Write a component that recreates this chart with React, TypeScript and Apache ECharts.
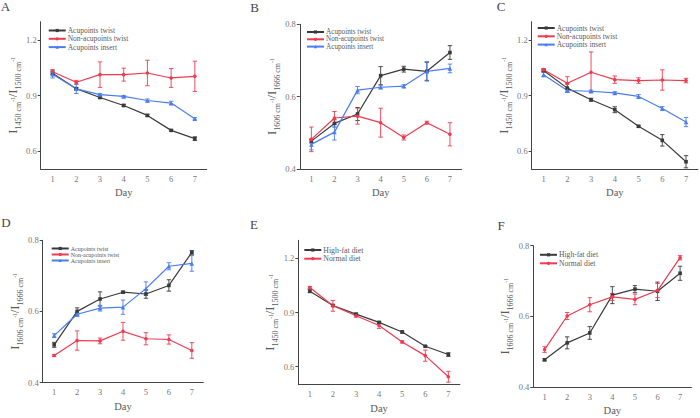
import React, { useEffect, useRef } from "react";
import * as echarts from "echarts";

const days = ["1", "2", "3", "4", "5", "6", "7"];

// Panel A
const A_twist = [1.02, 0.937, 0.889, 0.846, 0.792, 0.711, 0.666];
const A_twist_err = [0.008, 0.005, 0.005, 0.006, 0.006, 0.004, 0.01];
const A_non = [1.029, 0.972, 1.013, 1.013, 1.022, 0.995, 1.004];
const A_non_err = [0.012, 0.01, 0.069, 0.035, 0.069, 0.051, 0.082];
const A_insert = [1.015, 0.936, 0.905, 0.895, 0.873, 0.859, 0.774];
const A_insert_err = [0.02, 0.025, 0.005, 0.005, 0.008, 0.01, 0.006];

// Panel B
const B_twist = [0.477, 0.526, 0.552, 0.658, 0.676, 0.67, 0.722];
const B_twist_err = [0.005, 0.01, 0.018, 0.025, 0.008, 0.025, 0.019];
const B_non = [0.482, 0.541, 0.546, 0.528, 0.487, 0.528, 0.496];
const B_non_err = [0.034, 0.018, 0.022, 0.04, 0.007, 0.004, 0.032];
const B_insert = [0.468, 0.502, 0.618, 0.626, 0.629, 0.67, 0.678];
const B_insert_err = [0.015, 0.022, 0.01, 0.004, 0.004, 0.027, 0.012];

// Panel C
const C_twist = [1.035, 0.94, 0.877, 0.823, 0.733, 0.657, 0.541];
const C_twist_err = [0.006, 0.022, 0.008, 0.016, 0.005, 0.031, 0.033];
const C_non = [1.04, 0.966, 1.026, 0.986, 0.981, 0.984, 0.981];
const C_non_err = [0.006, 0.036, 0.11, 0.02, 0.015, 0.055, 0.012];
const C_insert = [1.013, 0.927, 0.923, 0.914, 0.895, 0.83, 0.756];
const C_insert_err = [0.012, 0.01, 0.006, 0.006, 0.01, 0.01, 0.025];

// Panel D
const D_twist = [0.506, 0.6, 0.635, 0.654, 0.649, 0.673, 0.766];
const D_twist_err = [0.007, 0.01, 0.02, 0.003, 0.012, 0.016, 0.005];
const D_non = [0.476, 0.518, 0.517, 0.544, 0.523, 0.521, 0.49];
const D_non_err = [0.003, 0.027, 0.008, 0.025, 0.017, 0.013, 0.022];
const D_insert = [0.532, 0.592, 0.609, 0.612, 0.664, 0.727, 0.735];
const D_insert_err = [0.005, 0.006, 0.008, 0.02, 0.019, 0.01, 0.022];

// Panel E
const E_highfat = [1.018, 0.939, 0.891, 0.845, 0.792, 0.713, 0.667];
const E_highfat_err = [0.008, 0.005, 0.005, 0.006, 0.006, 0.004, 0.01];
const E_normal = [1.038, 0.937, 0.882, 0.828, 0.737, 0.661, 0.544];
const E_normal_err = [0.006, 0.03, 0.008, 0.016, 0.006, 0.031, 0.03];

// Panel F
const F_highfat = [0.477, 0.525, 0.553, 0.66, 0.677, 0.671, 0.722];
const F_highfat_err = [0.003, 0.017, 0.018, 0.024, 0.01, 0.026, 0.02];
const F_normal = [0.506, 0.601, 0.633, 0.655, 0.648, 0.673, 0.766];
const F_normal_err = [0.008, 0.01, 0.02, 0.01, 0.015, 0.02, 0.006];

const yTicksHigh = [0.6, 0.9, 1.2];
const yTicksLow = [0.4, 0.6, 0.8];

const FONT = "Liberation Serif";
const BLACK = "#3a3a3a";
const RED = "#f03a50";
const BLUE = "#4a7cf2";
const TXT = "#5a5a5a";

const nameHigh = "{m|I}{s|1450 cm}{p|-1}{m|/I}{s|1500 cm}{p|-1}";
const nameLow = "{m|I}{s|1606 cm}{p|-1}{m|/I}{s|1666 cm}{p|-1}";

type S = { name: string; values: number[]; errors: number[]; color: string; symbol: string };

const panels = [
  {
    letter: "A", lx: 5.5, ly: 6.5,
    grid: { left: 40.7, top: 21.7, width: 166, height: 147.6 },
    y: { min: 0.5, max: 1.3, ticks: yTicksHigh }, yName: nameHigh, yGap: 17,
    legend: { left: 47.7, top: 26.5, font: 7.5, gap: 0.3 },
    series: [
      { name: "Acupoints twist", values: A_twist, errors: A_twist_err, color: BLACK, symbol: "rect" },
      { name: "Non-acupoints twist", values: A_non, errors: A_non_err, color: RED, symbol: "circle" },
      { name: "Acupoints insert", values: A_insert, errors: A_insert_err, color: BLUE, symbol: "triangle" },
    ] as S[],
  },
  {
    letter: "B", lx: 254.5, ly: 7,
    grid: { left: 299.8, top: 24.3, width: 161.7, height: 144.7 },
    y: { min: 0.4, max: 0.8, ticks: yTicksLow }, yName: nameLow, yGap: 12,
    legend: { left: 306, top: 28.5, font: 7.2, gap: 0.3 },
    series: [
      { name: "Acupoints twist", values: B_twist, errors: B_twist_err, color: BLACK, symbol: "rect" },
      { name: "Non-acupoints twist", values: B_non, errors: B_non_err, color: RED, symbol: "circle" },
      { name: "Acupoints insert", values: B_insert, errors: B_insert_err, color: BLUE, symbol: "triangle" },
    ] as S[],
  },
  {
    letter: "C", lx: 501, ly: 6,
    grid: { left: 531.7, top: 21.7, width: 166.2, height: 147.6 },
    y: { min: 0.5, max: 1.3, ticks: yTicksHigh }, yName: nameHigh, yGap: 14.5,
    legend: { left: 536.7, top: 24, font: 7.5, gap: 0.3 },
    series: [
      { name: "Acupoints twist", values: C_twist, errors: C_twist_err, color: BLACK, symbol: "rect" },
      { name: "Non-acupoints twist", values: C_non, errors: C_non_err, color: RED, symbol: "circle" },
      { name: "Acupoints insert", values: C_insert, errors: C_insert_err, color: BLUE, symbol: "triangle" },
    ] as S[],
  },
  {
    letter: "D", lx: 6, ly: 222,
    grid: { left: 42.7, top: 240.3, width: 160.6, height: 142.2 },
    y: { min: 0.4, max: 0.8, ticks: yTicksLow }, yName: nameLow, yGap: 18.5,
    legend: { left: 50.7, top: 245.5, font: 6, gap: 0 },
    series: [
      { name: "Acupoints twist", values: D_twist, errors: D_twist_err, color: BLACK, symbol: "rect" },
      { name: "Non-acupoints twist", values: D_non, errors: D_non_err, color: RED, symbol: "circle" },
      { name: "Acupoints insert", values: D_insert, errors: D_insert_err, color: BLUE, symbol: "triangle" },
    ] as S[],
  },
  {
    letter: "E", lx: 254, ly: 224,
    grid: { left: 298.3, top: 240.3, width: 161.6, height: 144.4 },
    y: { min: 0.5, max: 1.3, ticks: yTicksHigh }, yName: nameHigh, yGap: 11,
    legend: { left: 303.3, top: 246, font: 7.8, gap: 0.7 },
    series: [
      { name: "High-fat diet", values: E_highfat, errors: E_highfat_err, color: BLACK, symbol: "rect" },
      { name: "Normal diet", values: E_normal, errors: E_normal_err, color: RED, symbol: "circle" },
    ] as S[],
  },
  {
    letter: "F", lx: 501, ly: 225,
    grid: { left: 533.3, top: 245.7, width: 158.1, height: 141.3 },
    y: { min: 0.4, max: 0.8, ticks: yTicksLow }, yName: nameLow, yGap: 14,
    legend: { left: 539, top: 250.8, font: 7.6, gap: 0.5 },
    series: [
      { name: "High-fat diet", values: F_highfat, errors: F_highfat_err, color: BLACK, symbol: "rect" },
      { name: "Normal diet", values: F_normal, errors: F_normal_err, color: RED, symbol: "circle" },
    ] as S[],
  },
];

function buildOption() {
  const grid: any[] = [];
  const xAxis: any[] = [];
  const yAxis: any[] = [];
  const series: any[] = [];
  const legend: any[] = [];
  const graphic: any[] = [];

  panels.forEach((p, gi) => {
    grid.push({ ...p.grid, containLabel: false });
    xAxis.push({
      type: "category",
      gridIndex: gi,
      data: days,
      boundaryGap: true,
      name: "Day",
      nameLocation: "middle",
      nameGap: 18,
      nameTextStyle: { fontFamily: FONT, fontSize: 10.5, fontWeight: "normal", color: TXT },
      axisLine: { lineStyle: { color: "#444", width: 1 } },
      axisTick: { alignWithLabel: true, length: 3, lineStyle: { color: "#444" } },
      axisLabel: { fontFamily: FONT, fontSize: 8.5, fontWeight: "normal", color: "#777", margin: 5 },
      splitLine: { show: false },
    });
    yAxis.push({
      type: "value",
      gridIndex: gi,
      min: p.y.min,
      max: p.y.max,
      name: p.yName,
      nameLocation: "middle",
      nameGap: p.yGap,
      nameTextStyle: {
        fontFamily: FONT,
        fontWeight: "normal",
        color: TXT,
        rich: {
          m: { fontFamily: FONT, fontSize: 12.5, color: TXT, verticalAlign: "top", padding: [0, 0, 3, 0] },
          s: { fontFamily: FONT, fontSize: 8, color: TXT, verticalAlign: "bottom" },
          p: { fontFamily: FONT, fontSize: 5.5, color: TXT, verticalAlign: "middle", padding: [0, 0, 2, 0] },
        },
      },
      axisLine: { show: true, lineStyle: { color: "#444", width: 1 } },
      axisTick: { show: true, length: 3, customValues: p.y.ticks, lineStyle: { color: "#444" } },
      axisLabel: {
        fontFamily: FONT,
        fontSize: 8.5,
        fontWeight: "normal",
        color: "#777",
        margin: 4,
        customValues: p.y.ticks,
        formatter: (v: number) => v.toFixed(1),
      },
      splitLine: { show: false },
    });
    legend.push({
      orient: "vertical",
      left: p.legend.left,
      top: p.legend.top,
      itemWidth: 17,
      itemHeight: 4,
      itemGap: p.legend.gap,
      selectedMode: false,
      padding: 0,
      textStyle: { fontFamily: FONT, fontSize: p.legend.font, fontWeight: "normal", color: TXT, padding: [0, 0, 0, -3] },
      data: p.series.map((s) => s.name),
    });
    p.series.forEach((s) => {
      series.push({
        type: "line",
        name: s.name,
        xAxisIndex: gi,
        yAxisIndex: gi,
        data: s.values,
        symbol: s.symbol,
        symbolSize: s.symbol === "triangle" ? 4.5 : 3.6,
        itemStyle: { color: s.color },
        lineStyle: { color: s.color, width: 1.2 },
        z: 3,
      });
      const color = s.color;
      series.push({
        type: "custom",
        xAxisIndex: gi,
        yAxisIndex: gi,
        data: s.values.map((v, i) => [i, v - s.errors[i], v + s.errors[i]]),
        encode: { x: 0, y: [1, 2] },
        z: 2,
        renderItem: (params: any, api: any) => {
          const xi = api.value(0);
          const lo = api.coord([xi, api.value(1)]);
          const hi = api.coord([xi, api.value(2)]);
          const w = 2.2;
          const st = { stroke: color, lineWidth: 0.9 };
          return {
            type: "group",
            children: [
              { type: "line", shape: { x1: lo[0], y1: lo[1], x2: hi[0], y2: hi[1] }, style: st },
              { type: "line", shape: { x1: hi[0] - w, y1: hi[1], x2: hi[0] + w, y2: hi[1] }, style: st },
              { type: "line", shape: { x1: lo[0] - w, y1: lo[1], x2: lo[0] + w, y2: lo[1] }, style: st },
            ],
          };
        },
      });
    });
    graphic.push({
      type: "text",
      x: p.lx,
      y: p.ly,
      style: {
        text: p.letter,
        fontFamily: FONT,
        fontSize: 13,
        fontWeight: "normal",
        fill: "#444",
        align: "center",
        verticalAlign: "middle",
      },
    });
  });

  return { animation: false, textStyle: { fontFamily: FONT }, grid, xAxis, yAxis, series, legend, graphic };
}

export default function App() {
  const ref = useRef<HTMLDivElement>(null);
  useEffect(() => {
    if (!ref.current) return;
    const chart = echarts.init(ref.current, undefined, { renderer: "svg" });
    chart.setOption(buildOption() as any);
    return () => chart.dispose();
  }, []);
  return (
    <div
      ref={ref}
      style={{ position: "fixed", left: 0, top: 0, width: 700, height: 418, background: "#fff" }}
    />
  );
}
